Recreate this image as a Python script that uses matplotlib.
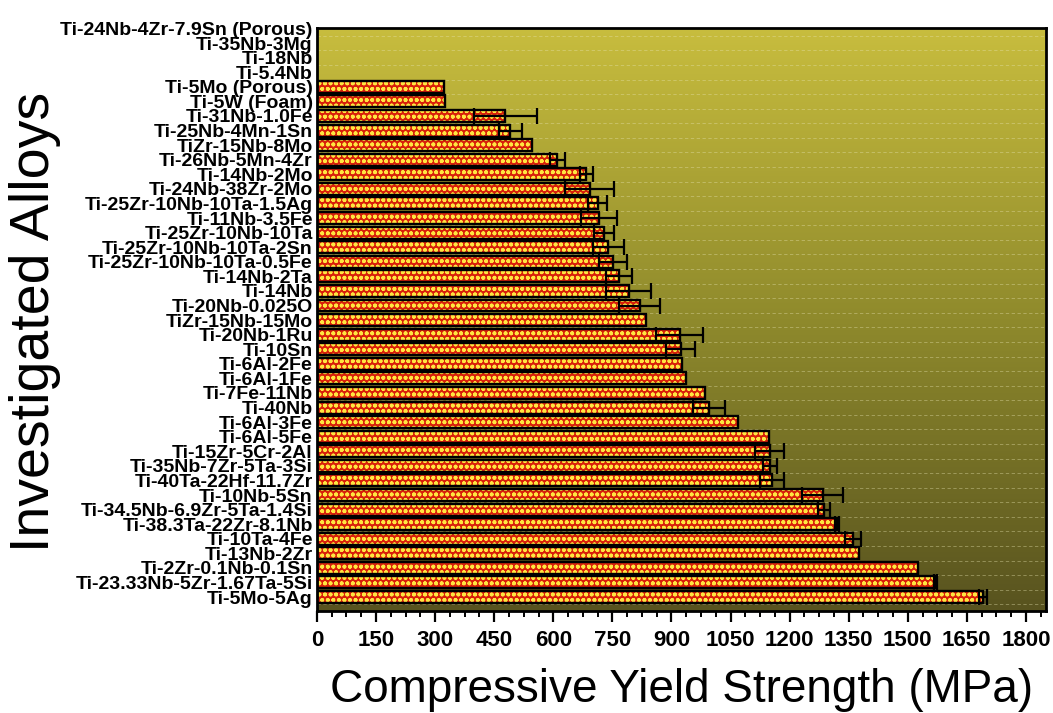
import numpy as np
import matplotlib
matplotlib.use('Agg')
import matplotlib.pyplot as plt
from matplotlib.colors import LinearSegmentedColormap
from matplotlib.ticker import MultipleLocator

# alloys listed top to bottom, compressive yield strength in MPa (0 = no value)
alloys = ['Ti-24Nb-4Zr-7.9Sn (Porous)', 'Ti-35Nb-3Mg', 'Ti-18Nb', 'Ti-5.4Nb',
          'Ti-5Mo (Porous)', 'Ti-5W (Foam)', 'Ti-31Nb-1.0Fe', 'Ti-25Nb-4Mn-1Sn',
          'TiZr-15Nb-8Mo', 'Ti-26Nb-5Mn-4Zr', 'Ti-14Nb-2Mo', 'Ti-24Nb-38Zr-2Mo',
          'Ti-25Zr-10Nb-10Ta-1.5Ag', 'Ti-11Nb-3.5Fe', 'Ti-25Zr-10Nb-10Ta',
          'Ti-25Zr-10Nb-10Ta-2Sn', 'Ti-25Zr-10Nb-10Ta-0.5Fe', 'Ti-14Nb-2Ta',
          'Ti-14Nb', 'Ti-20Nb-0.025O', 'TiZr-15Nb-15Mo', 'Ti-20Nb-1Ru', 'Ti-10Sn',
          'Ti-6Al-2Fe', 'Ti-6Al-1Fe', 'Ti-7Fe-11Nb', 'Ti-40Nb', 'Ti-6Al-3Fe',
          'Ti-6Al-5Fe', 'Ti-15Zr-5Cr-2Al', 'Ti-35Nb-7Zr-5Ta-3Si',
          'Ti-40Ta-22Hf-11.7Zr', 'Ti-10Nb-5Sn', 'Ti-34.5Nb-6.9Zr-5Ta-1.4Si',
          'Ti-38.3Ta-22Zr-8.1Nb', 'Ti-10Ta-4Fe', 'Ti-13Nb-2Zr',
          'Ti-2Zr-0.1Nb-0.1Sn', 'Ti-23.33Nb-5Zr-1.67Ta-5Si', 'Ti-5Mo-5Ag']
strength = [0, 0, 0, 0,
            322, 324, 478, 491,
            547, 610, 684, 692,
            713, 716, 728,
            740, 751, 767,
            791, 819, 836, 921, 923,
            926, 937, 985, 995, 1068,
            1147, 1149, 1150,
            1155, 1284, 1287,
            1320, 1360, 1377,
            1525, 1570, 1690]
err = [0, 0, 0, 0,
       0, 0, 80, 30,
       0, 19, 16, 63,
       24, 45, 25,
       40, 35, 33,
       58, 51, 0, 60, 37,
       0, 0, 0, 40, 0,
       0, 37, 17,
       31, 52, 16,
       6, 20, 0,
       0, 3, 10]

n = len(alloys)
y = np.arange(n)[::-1]
vals = np.array(strength, dtype=float)
errs = np.array(err, dtype=float)
has_bar = vals > 0
has_err = errs > 0

plt.rcParams['hatch.linewidth'] = 1.2
plt.rcParams['font.family'] = ['Liberation Sans', 'DejaVu Sans']

fig = plt.figure(figsize=(10.53, 7.13), dpi=100)
ax = fig.add_axes([0.301, 0.143, 0.692, 0.818])

xmax = 1850
ylo, yhi = -0.96, n - 1 + 0.05

# olive background, bright at the top and dark at the bottom
bg = LinearSegmentedColormap.from_list('olive', ['#58531f', '#8f8a2c', '#c8bd3e'])
grad = np.linspace(0, 1, 256).reshape(-1, 1)
ax.imshow(grad, cmap=bg, aspect='auto', origin='lower',
          extent=[0, xmax, ylo, yhi], zorder=0)

for yy in np.arange(-0.5, n, 1.0):
    ax.axhline(yy, color='#e6e3b0', lw=0.6, ls=(0, (4, 3)), alpha=0.45, zorder=1)

h = 0.82
ax.barh(y[has_bar], vals[has_bar], height=h, color='#d8200a',
        edgecolor='#ffe640', hatch='ooo', linewidth=0, zorder=2)
ax.barh(y[has_bar], vals[has_bar], height=h, fill=False,
        edgecolor='black', linewidth=1.7, zorder=3)
ax.errorbar(vals[has_err], y[has_err], xerr=errs[has_err], fmt='none',
            ecolor='black', elinewidth=1.6, capsize=6, capthick=1.6, zorder=4)

ax.set_xlim(0, xmax)
ax.set_ylim(ylo, yhi)
ax.set_yticks(y)
ax.set_yticklabels(alloys, fontsize=14, fontweight='bold')
ax.tick_params(axis='y', length=0, pad=3)

ax.xaxis.set_major_locator(MultipleLocator(150))
ax.xaxis.set_minor_locator(MultipleLocator(37.5))
ax.tick_params(axis='x', which='major', length=8, width=1.6, direction='out', pad=6)
ax.tick_params(axis='x', which='minor', length=4, width=1.4, direction='out')
for lab in ax.get_xticklabels():
    lab.set_fontweight('bold')
    lab.set_fontsize(16)

for sp in ax.spines.values():
    sp.set_linewidth(2)
    sp.set_color('black')

ax.set_xlabel('Compressive Yield Strength (MPa)', fontsize=33, labelpad=12)
fig.text(0.033, 0.548, 'Investigated Alloys', rotation=90, fontsize=40,
         ha='center', va='center')

fig.savefig('out.png', dpi=100)
